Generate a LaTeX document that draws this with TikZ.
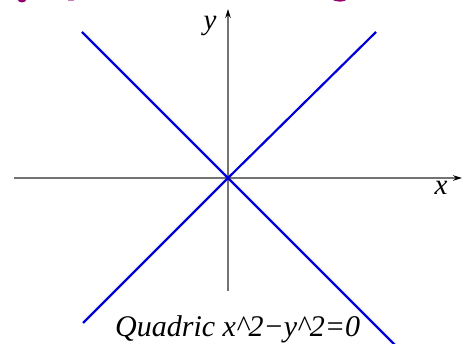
\documentclass[tikz,border=0pt]{standalone}
\usepackage{fontspec}
\setmainfont{Liberation Serif}
\usetikzlibrary{arrows.meta}
\begin{document}
\begin{tikzpicture}[x=1pt,y=-1pt,
  axis/.style={draw=gray!90!black,line width=1.4pt,-{Stealth[length=9pt,width=5.5pt,black]}},
  curve/.style={draw=blue!85!black,line width=2.2pt},
  lbl/.style={font=\fontsize{29}{30}\selectfont\itshape,inner sep=0pt},
  frag/.style={fill=violet!70!purple}]
\useasboundingbox (0,0) rectangle (463,344);
\clip (0,0) rectangle (463,344);
% clipped purple fragments of a heading above
\fill[frag] (22,-1) ellipse (4.5 and 3.5);
\fill[frag,opacity=0.5] (68,-2) rectangle (74,1);
\fill[frag] (330,-2) .. controls (336,3) and (344,3) .. (349,-2) -- cycle;
% axes
\coordinate (o) at (228,178);
\coordinate (xs) at (14,178);
\coordinate (xe) at (462,178);
\coordinate (ys) at (228,291);
\coordinate (ye) at (228,9);
\draw[axis] (xs) -- (xe);
\draw[axis] (ys) -- (ye);
\node[lbl,anchor=base] (xl) at (441,195) {x};
\node[lbl,anchor=base] (yl) at (210,30) {y};
% lines y = x and y = -x
\coordinate (ul) at (82,32);
\coordinate (ur) at (376,32);
\coordinate (ll) at (83,323);
\coordinate (lr) at (397,347);
\draw[curve] (ul) -- (o) -- (lr);
\draw[curve] (ur) -- (o) -- (ll);
\node[lbl,font=\fontsize{30}{31}\selectfont\itshape,anchor=base west] (cap) at (115,336.5)
  {Quadric x\textasciicircum 2−y\textasciicircum 2=0};
\end{tikzpicture}
\end{document}
